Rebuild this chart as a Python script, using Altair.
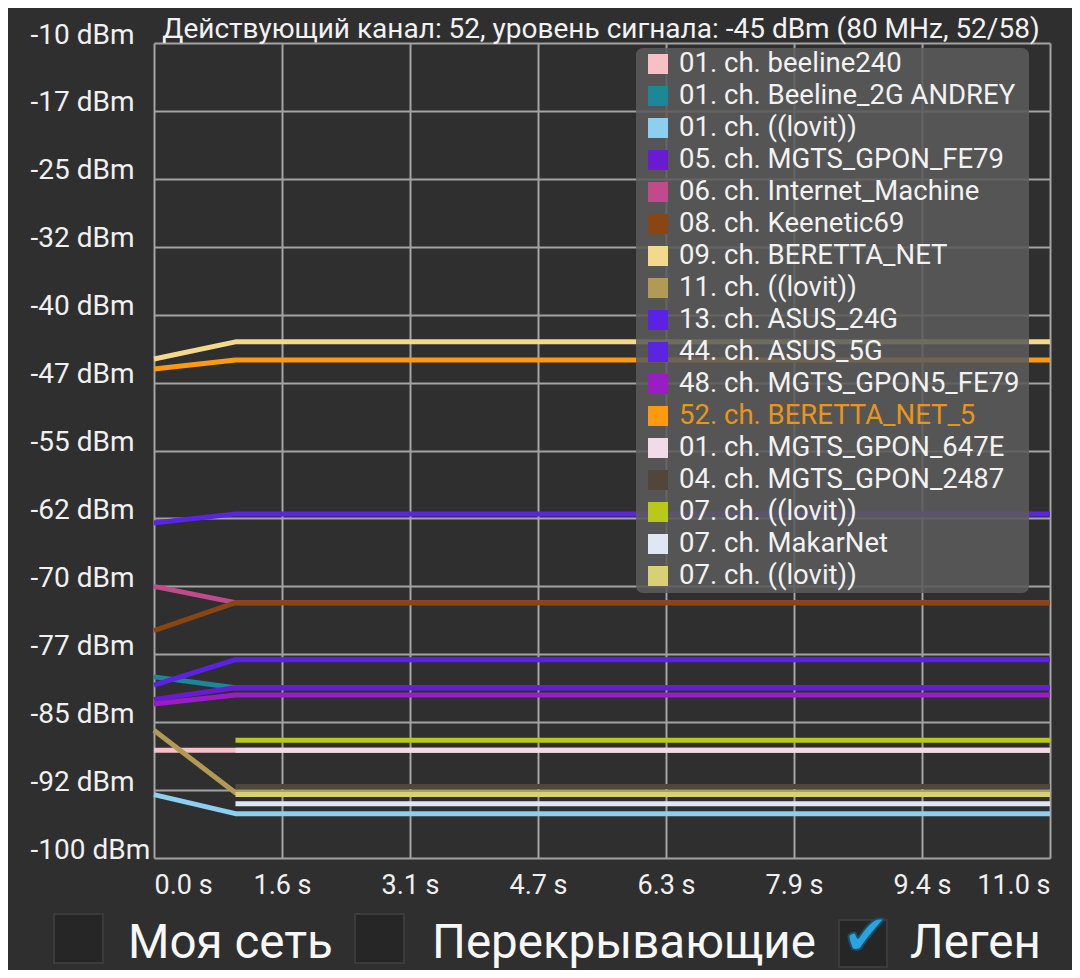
import altair as alt
import pandas as pd

# ---------------- data ----------------
series_names = [
    "01. ch. beeline240",
    "01. ch. Beeline_2G ANDREY",
    "01. ch. ((lovit))",
    "05. ch. MGTS_GPON_FE79",
    "06. ch. Internet_Machine",
    "08. ch. Keenetic69",
    "09. ch. BERETTA_NET",
    "11. ch. ((lovit))",
    "13. ch. ASUS_24G",
    "44. ch. ASUS_5G",
    "48. ch. MGTS_GPON5_FE79",
    "52. ch. BERETTA_NET_5",
    "01. ch. MGTS_GPON_647E",
    "04. ch. MGTS_GPON_2487",
    "07. ch. ((lovit))",
    "07. ch. MakarNet",
    "07. ch. ((lovit))",
]
series_colors = [
    "#f8c0c4", "#1b8797", "#8ccff0", "#6a1ad0", "#c04a8c", "#8a4612",
    "#f2d98c", "#b09a55", "#5b22e6", "#5a24e0", "#9a1cc4", "#ff990f",
    "#f2dbe8", "#50473a", "#b9c91c", "#e1e7f2", "#d8d072",
]
series_times = [
    [0, 1, 11], [0, 1, 11], [0, 1, 11], [0, 1, 11], [0, 1, 11], [0, 1, 11],
    [0, 1, 11], [0, 1, 11], [0, 1, 11], [0, 1, 11], [0, 1, 11], [0, 1, 11],
    [1, 11], [1, 11], [1, 11], [1, 11], [1, 11],
]
series_values = [
    [-88.1, -88.1, -88.1],
    [-80.0, -81.2, -81.2],
    [-93.0, -95.1, -95.1],
    [-82.5, -81.2, -81.2],
    [-70.0, -71.8, -71.8],
    [-74.9, -71.8, -71.8],
    [-44.9, -43.0, -43.0],
    [-85.9, -92.8, -92.8],
    [-80.9, -78.1, -78.1],
    [-63.0, -62.0, -62.0],
    [-83.0, -82.0, -82.0],
    [-46.0, -45.0, -45.0],
    [-88.1, -88.1],
    [-92.1, -92.1],
    [-87.0, -87.0],
    [-94.0, -94.0],
    [-93.0, -93.0],
]

y_tick_values = [-10, -17.5, -25, -32.5, -40, -47.5, -55, -62.5, -70, -77.5, -85, -92.5, -100]
y_tick_labels = ["-10 dBm", "-17 dBm", "-25 dBm", "-32 dBm", "-40 dBm", "-47 dBm", "-55 dBm",
                 "-62 dBm", "-70 dBm", "-77 dBm", "-85 dBm", "-92 dBm", "-100 dBm"]
x_tick_values = [0.0, 11 / 7, 22 / 7, 33 / 7, 44 / 7, 55 / 7, 66 / 7, 11.0]
x_tick_labels = ["0.0 s", "1.6 s", "3.1 s", "4.7 s", "6.3 s", "7.9 s", "9.4 s", "11.0 s"]

title_text = "Действующий канал: 52, уровень сигнала: -45 dBm (80 MHz, 52/58)"
current_channel_prefix = "52."
bottom_labels = ["Моя сеть", "Перекрывающие", "Леген"]

# ---------------- build tables ----------------
keys = [f"s{i + 1:02d}" for i in range(len(series_names))]
rows = []
for k, ts, vs in zip(keys, series_times, series_values):
    for t, v in zip(ts, vs):
        rows.append({"key": k, "t": t, "v": v})
lines_df = pd.DataFrame(rows)

legend_df = pd.DataFrame({
    "row": list(range(len(series_names))),
    "key": keys,
    "name": series_names,
    "hl": [n.startswith(current_channel_prefix) for n in series_names],
})


def label_expr(values, labels):
    expr = "''"
    for val, lab in reversed(list(zip(values, labels))):
        expr = f"(abs(datum.value - ({val})) < 0.001 ? '{lab}' : {expr})"
    return expr


FONT = "Roboto"
W, H = 896, 815
color_scale = alt.Scale(domain=keys, range=series_colors)

lines = alt.Chart(lines_df).mark_line(strokeWidth=5, strokeJoin="round").encode(
    x=alt.X("t:Q", scale=alt.Scale(domain=[0, 11], nice=False, zero=False),
            axis=alt.Axis(values=x_tick_values, labelExpr=label_expr(x_tick_values, x_tick_labels),
                          title=None, grid=True, gridColor="#a3a3a3", gridWidth=2, gridOpacity=1,
                          domain=False, ticks=False, labelFlush=True, labelFont=FONT,
                          labelFontSize=27, labelColor="#f0f0f0", labelPadding=14,
                          labelBaseline="top", labelOverlap=False)),
    y=alt.Y("v:Q", scale=alt.Scale(domain=[-100, -10], nice=False, zero=False),
            axis=alt.Axis(values=y_tick_values, labelExpr=label_expr(y_tick_values, y_tick_labels),
                          title=None, grid=True, gridColor="#a3a3a3", gridWidth=2, gridOpacity=1,
                          domain=False, ticks=False, labelFont=FONT, labelFontSize=28,
                          labelColor="#f0f0f0", labelAlign="left", labelPadding=124,
                          labelBaseline="alphabetic", labelOverlap=False)),
    color=alt.Color("key:N", scale=color_scale, legend=None),
    order=alt.Order("t:Q"),
)

one = pd.DataFrame({"a": [0]})

legend_bg = alt.Chart(one).mark_rect(fill="#5b5b5b", opacity=0.88, cornerRadius=7).encode(
    x=alt.value(482), x2=alt.value(875), y=alt.value(5), y2=alt.value(550)
)

legend_y = alt.Y("row:Q", scale=alt.Scale(domain=[0, 16], range=[21, 533]), axis=None)

legend_sw = alt.Chart(legend_df).mark_point(shape="square", filled=True, size=400, opacity=1,
                                            strokeWidth=0).encode(
    x=alt.value(504),
    y=legend_y,
    fill=alt.Fill("key:N", scale=color_scale, legend=None),
)

legend_txt = alt.Chart(legend_df).mark_text(align="left", baseline="middle", font=FONT,
                                            fontSize=27.5).encode(
    x=alt.value(525),
    y=legend_y,
    text="name:N",
    color=alt.condition(alt.datum.hl, alt.value("#e8951c"), alt.value("#f2f2f2")),
)

title = alt.Chart(pd.DataFrame({"text": [title_text]})).mark_text(
    align="center", baseline="alphabetic", font=FONT, fontSize=28, color="#f2f2f2"
).encode(x=alt.value(447), y=alt.value(-5), text="text:N")

bl_df = pd.DataFrame({"text": bottom_labels})
btxt = dict(align="left", baseline="alphabetic", font=FONT, fontSize=47.5, color="#f7f7f7")
b1 = alt.Chart(bl_df.iloc[[0]]).mark_text(**btxt).encode(
    x=alt.value(-26), y=alt.value(915), text="text:N")
b2 = alt.Chart(bl_df.iloc[[1]]).mark_text(**btxt).encode(
    x=alt.value(278), y=alt.value(915), text="text:N")
b3 = alt.Chart(bl_df.iloc[[2]]).mark_text(**btxt).encode(
    x=alt.value(756), y=alt.value(915), text="text:N")

box_style = dict(fill="#262626", stroke="#3b3b3b", strokeWidth=2)
box1 = alt.Chart(one).mark_rect(**box_style).encode(
    x=alt.value(-100), x2=alt.value(-51), y=alt.value(871), y2=alt.value(920))
box2 = alt.Chart(one).mark_rect(**box_style).encode(
    x=alt.value(201), x2=alt.value(250), y=alt.value(871), y2=alt.value(920))
box3 = alt.Chart(one).mark_rect(**box_style).encode(
    x=alt.value(685), x2=alt.value(733), y=alt.value(877), y2=alt.value(924))
check = alt.Chart(pd.DataFrame({"c": ["✔"]})).mark_text(
    font="DejaVu Sans", fontSize=58, color="#2ba3dd", stroke="#174f6e", strokeWidth=2,
    align="center", baseline="middle").encode(x=alt.value(712), y=alt.value(895), text="c:N")

chart = alt.layer(
    lines, legend_bg, legend_sw, legend_txt, title, box1, box2, box3, b1, b2, b3, check
).resolve_scale(y="independent", x="independent", color="independent", fill="independent").properties(
    width=W, height=H,
    autosize=alt.AutoSizeParams(type="none"),
    padding={"left": 146, "top": 35, "right": 22, "bottom": 112},
    background="#2f2f2f",
).configure_view(stroke=None)

chart.save("out.html", embed_options={"renderer": "svg", "actions": False})
